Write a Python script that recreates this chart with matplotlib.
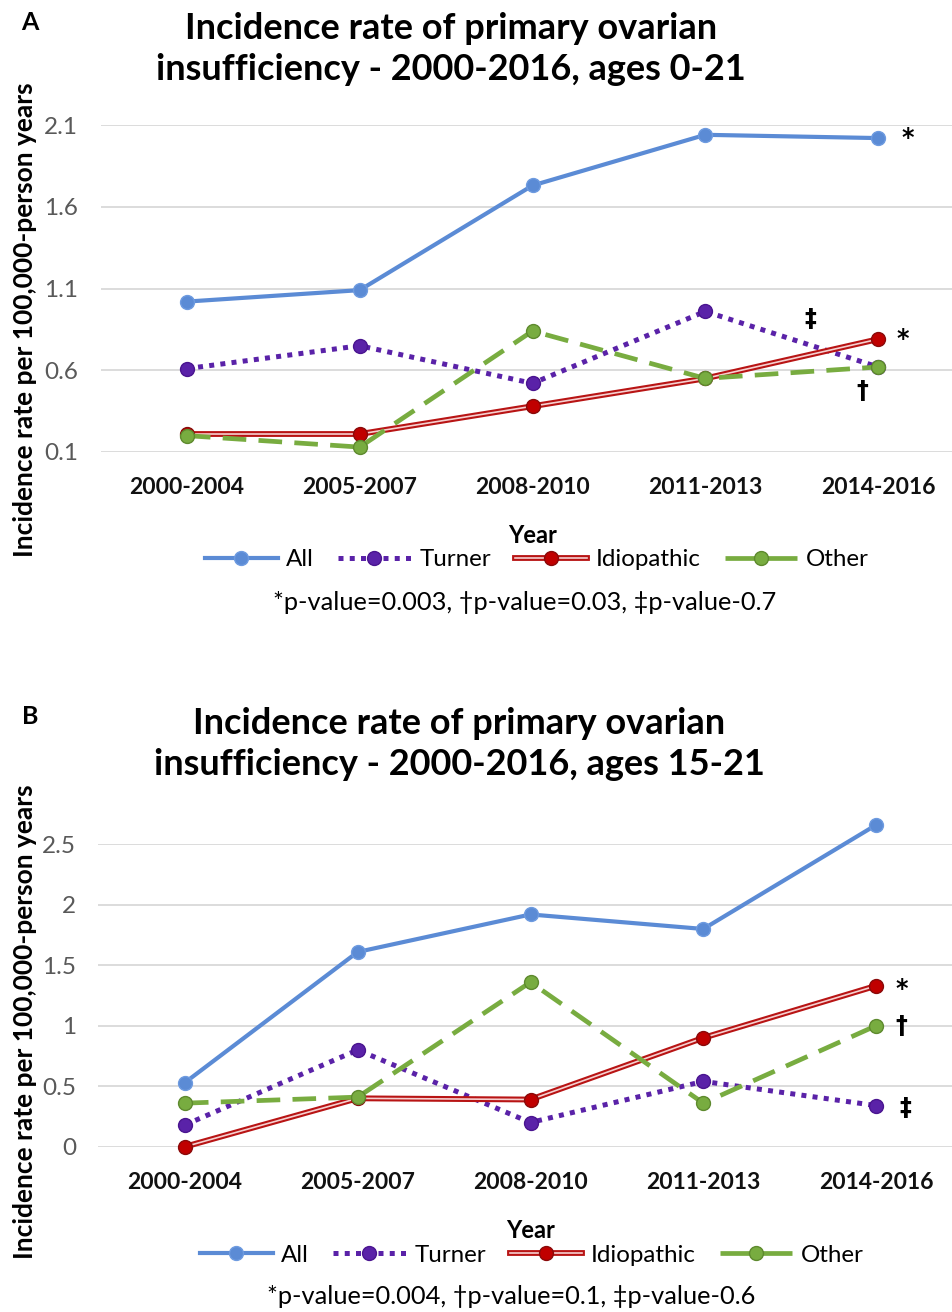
import matplotlib.pyplot as plt
from matplotlib.lines import Line2D
from matplotlib.legend_handler import HandlerTuple

plt.rcParams['font.family'] = ['Lato', 'DejaVu Sans']

periodos = ['2000-2004', '2005-2007', '2008-2010', '2011-2013', '2014-2016']

# painel A, idades 0-21
all_a = [1.02, 1.09, 1.73, 2.04, 2.02]
turner_a = [0.61, 0.75, 0.52, 0.96, 0.62]
idio_a = [0.21, 0.21, 0.38, 0.55, 0.79]
other_a = [0.20, 0.13, 0.84, 0.55, 0.62]
ticks_a = [0.1, 0.6, 1.1, 1.6, 2.1]
tick_lab_a = ['0.1', '0.6', '1.1', '1.6', '2.1']

# painel B, idades 15-21
all_b = [0.53, 1.61, 1.92, 1.80, 2.66]
turner_b = [0.18, 0.80, 0.20, 0.54, 0.34]
idio_b = [0.00, 0.40, 0.39, 0.90, 1.33]
other_b = [0.36, 0.41, 1.36, 0.36, 1.00]
ticks_b = [0, 0.5, 1, 1.5, 2, 2.5]
tick_lab_b = ['0', '0.5', '1', '1.5', '2', '2.5']

c_all = '#5B8BD5'
c_turner = '#5A22A8'
c_idio = '#B81414'
c_other = '#78AC40'

W, H = 953, 1312
fig = plt.figure(figsize=(W / 100, H / 100), dpi=100)


def fx(px):
    return px / W


def fy(py):
    return 1 - py / H


def painel(rect, allv, turner, idio, other, ticks, tick_lab, ylim):
    ax = fig.add_axes(rect)
    x = range(len(periodos))
    ms = 10
    ax.plot(x, allv, color=c_all, lw=3, marker='o', ms=ms, mfc=c_all, mec='#6E9BE0', clip_on=False, zorder=3)
    ax.plot(x, turner, color=c_turner, lw=3.6, ls=(0, (1, 1.25)), marker='o', ms=ms,
            mfc=c_turner, mec='#4A1590', clip_on=False, zorder=4)
    ax.plot(x, idio, color=c_idio, lw=4.2, clip_on=False, zorder=5)
    ax.plot(x, idio, color='#F6D0D0', lw=1.2, clip_on=False, zorder=5)
    ax.plot(x, idio, ls='none', marker='o', ms=ms, mfc='#C00000', mec='#8A0A0A', clip_on=False, zorder=5)
    ax.plot(x, other, color=c_other, lw=3.4, ls=(0, (5, 2.6)), marker='o', ms=ms,
            mfc=c_other, mec='#5E8A2E', clip_on=False, zorder=6)
    ax.set_xlim(-0.5, len(periodos) - 0.5)
    ax.set_ylim(ylim)
    ax.set_yticks(ticks)
    ax.set_yticklabels(tick_lab, color='#595959', fontsize=17.5)
    ax.set_xticks(list(x))
    ax.set_xticklabels(periodos, fontsize=16.5, fontweight='bold', color='#111111')
    ax.tick_params(axis='both', length=0)
    ax.tick_params(axis='x', pad=18)
    ax.tick_params(axis='y', pad=16)
    ax.grid(axis='y', color='#D9D9D9', lw=1.3)
    ax.set_axisbelow(True)
    for s in ax.spines.values():
        s.set_visible(False)
    return ax


ax_a = painel([fx(100.5), fy(452), fx(864), 327 / H], all_a, turner_a, idio_a, other_a,
              ticks_a, tick_lab_a, (0.1, 2.1))
ax_b = painel([fx(98.5), fy(1146.7), fx(864), 302.4 / H], all_b, turner_b, idio_b, other_b,
              ticks_b, tick_lab_b, (0, 2.5))

# marcas de significancia
kw = dict(textcoords='offset pixels', fontsize=17, fontweight='bold', ha='center', va='center',
          family=['DejaVu Sans'])
ax_a.annotate('*', (4, all_a[4]), xytext=(30, 0), **kw)
ax_a.annotate('*', (4, idio_a[4]), xytext=(25, 0), **kw)
ax_a.annotate('\u2021', (4, turner_a[4]), xytext=(-68, 48), **kw)
ax_a.annotate('\u2020', (4, other_a[4]), xytext=(-16, -24), **kw)
ax_b.annotate('*', (4, all_b[4]), xytext=(25, 6), **kw)
ax_b.annotate('*', (4, idio_b[4]), xytext=(26, -3), **kw)
ax_b.annotate('\u2020', (4, other_b[4]), xytext=(25, 0), **kw)
ax_b.annotate('\u2021', (4, turner_b[4]), xytext=(29, -2), **kw)

# titulos e rotulos
titulo_a = 'Incidence rate of primary ovarian\ninsufficiency - 2000-2016, ages 0-21'
titulo_b = 'Incidence rate of primary ovarian\ninsufficiency - 2000-2016, ages 15-21'
fig.text(fx(451), fy(49), titulo_a, ha='center', va='center', fontsize=26, fontweight='bold',
         linespacing=1.3)
fig.text(fx(459), fy(744), titulo_b, ha='center', va='center', fontsize=26, fontweight='bold',
         linespacing=1.3)
fig.text(fx(30), fy(22), 'A', ha='center', va='center', fontsize=18, fontweight='bold')
fig.text(fx(30), fy(717), 'B', ha='center', va='center', fontsize=18, fontweight='bold')

ylab = 'Incidence rate per 100,000-person years'
fig.text(fx(25), fy(320), ylab, rotation=90, ha='center', va='center', fontsize=19, fontweight='bold')
fig.text(fx(25), fy(1022), ylab, rotation=90, ha='center', va='center', fontsize=19, fontweight='bold')

fig.text(fx(533), fy(536), 'Year', ha='center', va='center', fontsize=17, fontweight='bold')
fig.text(fx(531), fy(1230), 'Year', ha='center', va='center', fontsize=17, fontweight='bold')

notas_a = '*p-value=0.003, \u2020p-value=0.03, \u2021p-value-0.7'
notas_b = '*p-value=0.004, \u2020p-value=0.1, \u2021p-value-0.6'
fig.text(fx(525), fy(603), notas_a, ha='center', va='center', fontsize=18.3)
fig.text(fx(511), fy(1297), notas_b, ha='center', va='center', fontsize=18.3)

# legenda
h_all = Line2D([], [], color=c_all, lw=3, marker='o', ms=10, mfc=c_all, mec='#6E9BE0')
h_tur = Line2D([], [], color=c_turner, lw=3.6, ls=(0, (1, 1.25)), marker='o', ms=10, mfc=c_turner, mec='#4A1590')
h_id1 = Line2D([], [], color=c_idio, lw=4.2)
h_id2 = Line2D([], [], color='#F6D0D0', lw=1.2)
h_id3 = Line2D([], [], ls='none', marker='o', ms=10, mfc='#C00000', mec='#8A0A0A')
h_oth = Line2D([], [], color=c_other, lw=3.4, ls=(0, (6.5, 2.4)), marker='o', ms=10, mfc=c_other, mec='#5E8A2E')
handles = [h_all, h_tur, (h_id1, h_id2, h_id3), h_oth]
labels = ['All', 'Turner', 'Idiopathic', 'Other']

for yc, xc in [(560, 537), (1255, 532)]:
    fig.legend(handles, labels, loc='center', bbox_to_anchor=(fx(xc), fy(yc)), ncol=4, frameon=False,
               fontsize=17.4, handlelength=3.0, handletextpad=0.35, columnspacing=1.0,
               handler_map={tuple: HandlerTuple(ndivide=1)})

fig.savefig('out.png', dpi=100, facecolor='white')
